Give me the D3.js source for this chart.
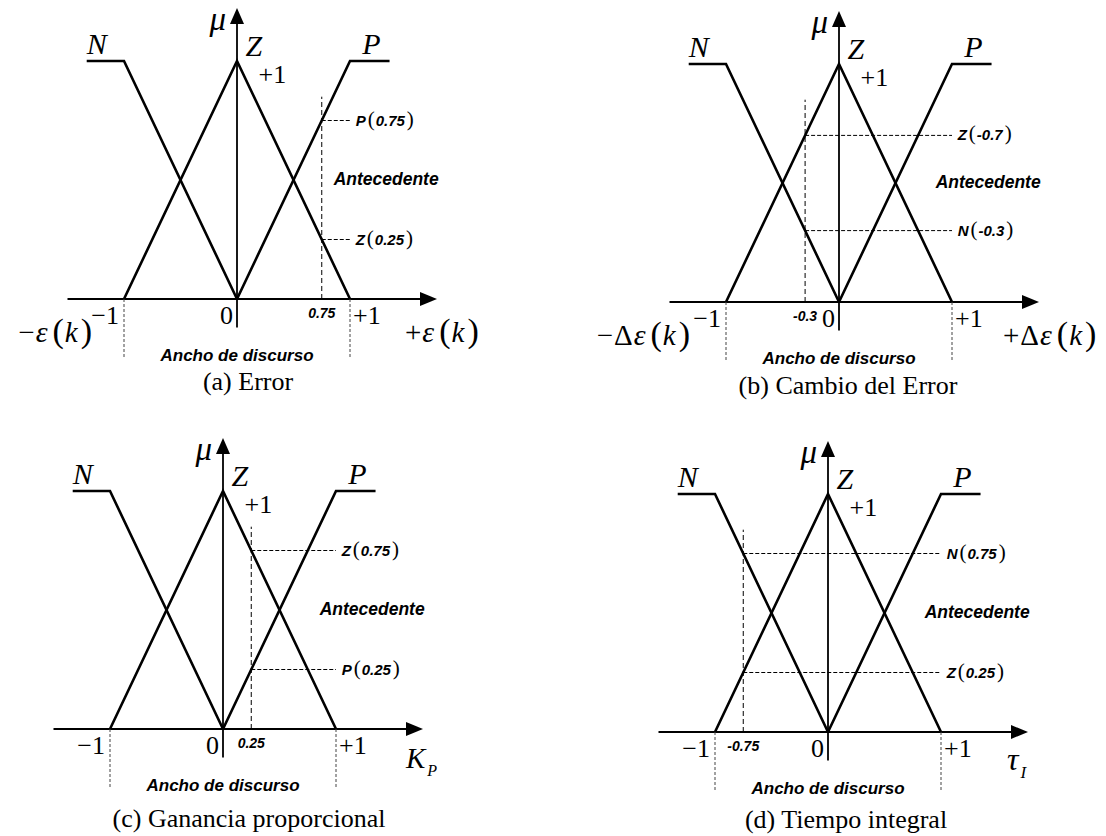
<!DOCTYPE html>
<html>
<head>
<meta charset="utf-8">
<script src="https://cdn.jsdelivr.net/npm/d3@7"></script>
<style>
  body { margin: 0; background: #fff; }
  svg { display: block; }
</style>
</head>
<body>
<svg id="fig" width="1106" height="836"></svg>
<script>
// Fuzzy sets on the normalised universe of discourse [-1, +1]: [x, mu] vertices
const setN = [[-1.33, 1], [-1, 1], [0, 0]];
const setZ = [[-1, 0], [0, 1], [1, 0]];
const setP = [[0, 0], [1, 1], [1.35, 1]];
const setNames = ["N", "Z", "P"];
const setLabelX = [-1.24, 0.15, 1.19];

// Axis ticks
const tickValues = [-1, 0, 1];
const tickLabels = ["\u22121", "0", "+1"];

// One entry per panel
const captions = ["(a) Error", "(b) Cambio del Error", "(c) Ganancia proporcional", "(d) Tiempo integral"];
const inputValues = [0.75, -0.3, 0.25, -0.75];
const inputLabels = ["0.75", "-0.3", "0.25", "-0.75"];
const readingSets = [["P", "Z"], ["Z", "N"], ["Z", "P"], ["N", "Z"]];
const readingMu = [[0.75, 0.25], [0.7, 0.3], [0.75, 0.25], [0.75, 0.25]];
const readingText = [["0.75", "0.25"], ["-0.7", "-0.3"], ["0.75", "0.25"], ["0.75", "0.25"]];
const variableKind = ["eps", "deps", "kp", "ti"];

// Page layout
const UX = 113, UY = 238;
const layout = [
  { ox: 237, oy: 299, capX: 248, capY: 390 },
  { ox: 839, oy: 302, capX: 848, capY: 394 },
  { ox: 223, oy: 729, capX: 249, capY: 827 },
  { ox: 828, oy: 732, capX: 846, capY: 828 }
];

const serif = "'Liberation Serif','Times New Roman',serif";
const sans = "'Liberation Sans',Arial,sans-serif";
const svg = d3.select("#fig");

// Text built from styled runs (math-like labels)
function rich(g, x, y, anchor, parts) {
  const t = g.append("text").attr("x", x).attr("y", y)
    .attr("text-anchor", anchor).attr("fill", "#000");
  parts.forEach(p => {
    const s = t.append("tspan").text(p.t)
      .attr("font-family", p.f || serif)
      .attr("font-size", p.s)
      .attr("font-style", p.i ? "italic" : "normal")
      .attr("font-weight", p.b ? "bold" : "normal");
    if (p.dx) s.attr("dx", p.dx);
    if (p.dy) s.attr("dy", p.dy);
  });
  return t;
}

function epsParts(sign, delta) {
  const parts = [{ t: sign, s: 29 }];
  if (delta) parts.push({ t: "\u0394", s: 29, dx: 1 });
  parts.push({ t: "\u03B5", s: 30, i: true, dx: 1 });
  parts.push({ t: "(", s: 34, dx: 5 });
  parts.push({ t: "k", s: 29, i: true, dx: 1 });
  parts.push({ t: ")", s: 34, dx: 3 });
  return parts;
}

layout.forEach((L, i) => {
  const g = svg.append("g");
  const x = d3.scaleLinear().domain([-1, 1]).range([L.ox - UX, L.ox + UX]);
  const y = d3.scaleLinear().domain([0, 1]).range([L.oy, L.oy - UY]);

  // Axes with arrowheads
  const xTip = x(1.77), yTip = y(1.223);
  g.append("line").attr("x1", x(-1.5)).attr("x2", xTip - 8)
    .attr("y1", y(0)).attr("y2", y(0))
    .attr("stroke", "#000").attr("stroke-width", 1.8);
  g.append("path")
    .attr("d", `M${xTip},${y(0)} L${xTip - 17},${y(0) - 7} L${xTip - 17},${y(0) + 7} Z`)
    .attr("fill", "#000");
  g.append("line").attr("x1", x(0)).attr("x2", x(0))
    .attr("y1", y(-0.12)).attr("y2", yTip + 8)
    .attr("stroke", "#000").attr("stroke-width", 1.8);
  g.append("path")
    .attr("d", `M${x(0)},${yTip} L${x(0) - 7},${yTip + 16} L${x(0) + 7},${yTip + 16} Z`)
    .attr("fill", "#000");

  // Universe of discourse limits
  [-1, 1].forEach(v => {
    g.append("line").attr("x1", x(v)).attr("x2", x(v))
      .attr("y1", y(0)).attr("y2", y(0) + 59)
      .attr("stroke", "#444").attr("stroke-width", 1)
      .attr("stroke-dasharray", "3,2");
  });

  // Membership functions
  const line = d3.line().x(d => x(d[0])).y(d => y(d[1]));
  [setN, setZ, setP].forEach(s => {
    g.append("path").attr("d", line(s))
      .attr("fill", "none").attr("stroke", "#000")
      .attr("stroke-width", 2.6).attr("stroke-linejoin", "miter");
  });

  // Input value and its membership readings
  const xv = inputValues[i];
  g.append("line").attr("x1", x(xv)).attr("x2", x(xv))
    .attr("y1", y(0)).attr("y2", y(0.85))
    .attr("stroke", "#000").attr("stroke-width", 1)
    .attr("stroke-dasharray", "5,3");
  readingMu[i].forEach((mu, j) => {
    g.append("line").attr("x1", x(xv)).attr("x2", x(1.0))
      .attr("y1", y(mu)).attr("y2", y(mu))
      .attr("stroke", "#000").attr("stroke-width", 1)
      .attr("stroke-dasharray", "4,2");
    rich(g, x(1.05), y(mu) + 5, "start", [
      { t: readingSets[i][j], f: sans, s: 15, b: true, i: true },
      { t: "(", s: 21, dx: 2 },
      { t: readingText[i][j], f: sans, s: 15, b: true, i: true, dx: 1 },
      { t: ")", s: 21, dx: 2 }
    ]);
  });
  g.append("text").attr("x", x(xv)).attr("y", y(0) + 19)
    .attr("text-anchor", "middle")
    .attr("font-family", sans).attr("font-size", 14)
    .attr("font-weight", "bold").attr("font-style", "italic")
    .text(inputLabels[i]);

  g.append("text").attr("x", x(1.32)).attr("y", y(0.48))
    .attr("text-anchor", "middle")
    .attr("font-family", sans).attr("font-size", 17.5)
    .attr("font-weight", "bold").attr("font-style", "italic")
    .text("Antecedente");

  // Tick labels
  const tickAnchor = ["end", "end", "start"];
  const tickDx = [-5, -4, 3];
  tickValues.forEach((v, k) => {
    g.append("text").attr("x", x(v) + tickDx[k]).attr("y", y(0) + 25)
      .attr("text-anchor", tickAnchor[k])
      .attr("font-family", serif).attr("font-size", 26)
      .text(tickLabels[k]);
  });

  // Set names, membership axis label
  setNames.forEach((n, k) => {
    g.append("text").attr("x", x(setLabelX[k])).attr("y", y(1) - (k === 1 ? 5 : 7))
      .attr("text-anchor", "middle")
      .attr("font-family", serif).attr("font-size", 30).attr("font-style", "italic")
      .text(n);
  });
  g.append("text").attr("x", x(-0.17)).attr("y", y(1.13))
    .attr("text-anchor", "middle")
    .attr("font-family", serif).attr("font-size", 33).attr("font-style", "italic")
    .text("\u03BC");
  g.append("text").attr("x", x(0.19)).attr("y", y(1) + 22)
    .attr("font-family", serif).attr("font-size", 26)
    .text("+1");

  // Variable names on the horizontal axis
  const kind = variableKind[i];
  if (kind === "eps" || kind === "deps") {
    const d = kind === "deps";
    rich(g, x(-1) - (d ? 36 : 32), y(0) + 43, "end", epsParts("\u2212", d));
    rich(g, x(1) + (d ? 51 : 55), y(0) + 43, "start", epsParts("+", d));
  } else if (kind === "kp") {
    rich(g, x(1) + 70, y(0) + 39, "start", [
      { t: "K", s: 29, i: true },
      { t: "P", s: 16, i: true, dx: 2, dy: 8 }
    ]);
  } else {
    rich(g, x(1) + 66, y(0) + 38, "start", [
      { t: "\u03C4", s: 32, i: true },
      { t: "I", s: 17, i: true, dx: 2, dy: 8 }
    ]);
  }

  g.append("text").attr("x", L.ox).attr("y", y(0) + 62)
    .attr("text-anchor", "middle")
    .attr("font-family", sans).attr("font-size", 17)
    .attr("font-weight", "bold").attr("font-style", "italic")
    .text("Ancho de discurso");

  g.append("text").attr("x", L.capX).attr("y", L.capY)
    .attr("text-anchor", "middle")
    .attr("font-family", serif).attr("font-size", 26)
    .text(captions[i]);
});
</script>
</body>
</html>
